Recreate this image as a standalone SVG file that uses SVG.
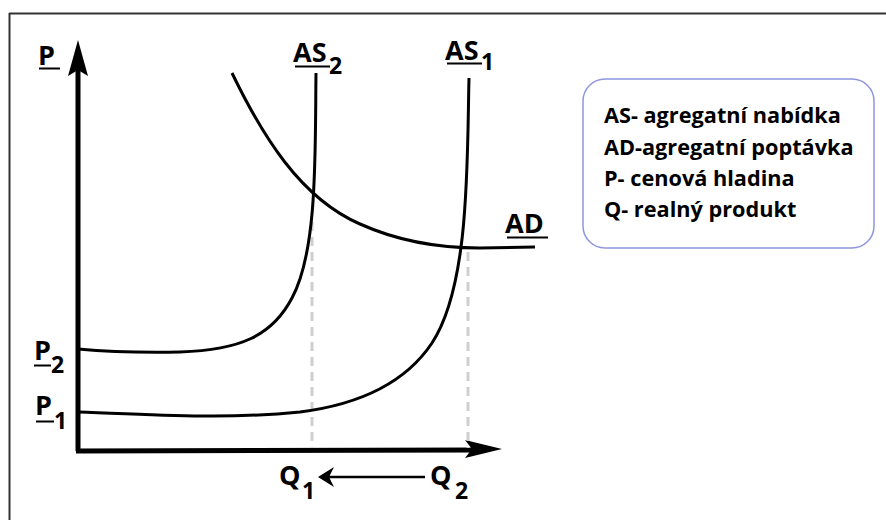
<svg xmlns="http://www.w3.org/2000/svg" width="886" height="520" viewBox="0 0 886 520">
<style>
.lbl{font-family:"Open Sans","Noto Sans","DejaVu Sans",sans-serif;font-weight:bold;fill:#000;}
.big{font-size:27px;}
.sub{font-size:23px;}
.leg{font-family:"Open Sans","Noto Sans","DejaVu Sans",sans-serif;font-weight:bold;font-size:21.7px;fill:#000;}
.curve{fill:none;stroke:#000;stroke-width:3;}
.dash{fill:none;stroke:#cfcfcf;stroke-width:3;stroke-dasharray:9 6;}
.ul{stroke:#000;stroke-width:2;}
</style>
<rect width="886" height="520" fill="#fff"/>
<g id="frame">
<line x1="9" y1="13.5" x2="886" y2="13.5" stroke="#333" stroke-width="2"/>
<line x1="9.5" y1="13" x2="9.5" y2="520" stroke="#333" stroke-width="2"/>
</g>
<g id="axes">
<line x1="78" y1="451" x2="78" y2="70" stroke="#000" stroke-width="5"/>
<path d="M78,40 L88,76 L78,70 L68,76 Z" fill="#000"/>
<line x1="76" y1="451" x2="475" y2="450" stroke="#000" stroke-width="5"/>
<path d="M502,449 L465,440 L472,449 L465,458 Z" fill="#000"/>
</g>
<g id="connectors">
<line class="dash" x1="312" y1="222" x2="312" y2="448"/>
<line class="dash" x1="468" y1="252" x2="468" y2="448"/>
<path class="curve" id="AS2-curve" d="M316,73 C315,150 318,250 292,298 C272,336 240,350 180,352 C130,353 100,351 78,349"/>
<path class="curve" id="AS1-curve" d="M469,78 C467,160 470,285 432,343 C404,385 355,405 300,412 C220,420 150,414 78,412"/>
<path class="curve" id="AD-curve" d="M232,73 C262,135 300,198 360,224 C400,242 440,248 480,248 L535,247"/>
<line x1="425" y1="477" x2="322" y2="477" stroke="#000" stroke-width="2.5"/>
<path d="M318,477 L334,467 L329,477 L334,487 Z" fill="#000"/>
</g>
<g id="label-P">
<text class="lbl big" x="38" y="65">P</text>
<line class="ul" x1="39" y1="68.5" x2="60" y2="68.5"/>
</g>
<g id="label-AS2">
<text class="lbl big" x="293" y="62">AS</text>
<line class="ul" x1="295" y1="66.5" x2="330" y2="66.5"/>
<text class="lbl sub" x="329" y="74">2</text>
</g>
<g id="label-AS1">
<text class="lbl big" x="445" y="60">AS</text>
<line class="ul" x1="447" y1="63.5" x2="482" y2="63.5"/>
<text class="lbl sub" x="481" y="70">1</text>
</g>
<g id="label-AD">
<text class="lbl big" x="505" y="233">AD</text>
<line class="ul" x1="507" y1="237.5" x2="548" y2="237.5"/>
</g>
<g id="label-P2">
<text class="lbl big" x="34" y="360">P</text>
<line class="ul" x1="34" y1="365.5" x2="51" y2="365.5"/>
<text class="lbl sub" x="51" y="373">2</text>
</g>
<g id="label-P1">
<text class="lbl big" x="35" y="415">P</text>
<line class="ul" x1="36" y1="421.5" x2="54" y2="421.5"/>
<text class="lbl sub" x="54" y="429">1</text>
</g>
<g id="label-Q1">
<text class="lbl big" x="279" y="485">Q</text>
<text class="lbl sub" x="302" y="499">1</text>
</g>
<g id="label-Q2">
<text class="lbl big" x="430" y="485">Q</text>
<text class="lbl sub" x="455" y="499">2</text>
</g>
<g id="legend">
<rect x="583" y="79" width="291" height="169" rx="22" ry="22" fill="#fff" stroke="#8f95e0" stroke-width="1.5"/>
<text class="leg" x="604" y="123">AS- agregatní nabídka</text>
<text class="leg" x="604" y="155">AD-agregatní poptávka</text>
<text class="leg" x="604" y="186">P- cenová hladina</text>
<text class="leg" x="604" y="217">Q- realný produkt</text>
</g>
</svg>
